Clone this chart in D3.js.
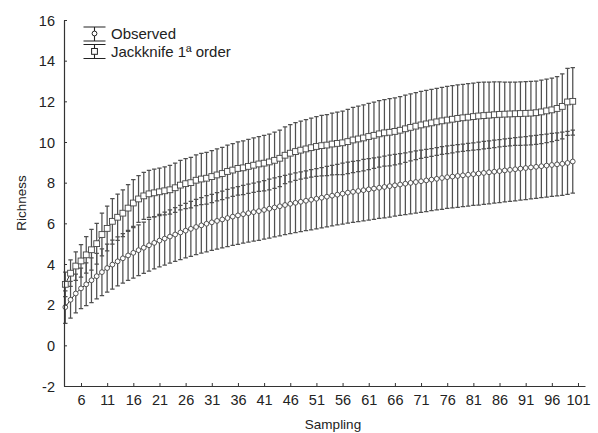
<!DOCTYPE html>
<html><head><meta charset="utf-8">
<script src="https://cdn.jsdelivr.net/npm/d3@7"></script>
<style>body{margin:0;background:#fff}svg{display:block;font-family:"Liberation Sans",Arial,sans-serif}</style>
</head><body><svg id="c" width="598" height="433"></svg>
<script>
const sampleStart = 3;
const observed = [1.88,2.24,2.55,2.8,3.0,3.2,3.4,3.6,3.8,3.97,4.13,4.28,4.42,4.55,4.68,4.8,4.92,5.04,5.15,5.25,5.35,5.45,5.55,5.64,5.73,5.82,5.9,5.98,6.05,6.12,6.19,6.26,6.33,6.39,6.45,6.5,6.55,6.6,6.66,6.72,6.78,6.84,6.9,6.96,7.01,7.06,7.11,7.16,7.21,7.26,7.31,7.36,7.41,7.46,7.51,7.55,7.59,7.63,7.67,7.71,7.75,7.79,7.83,7.87,7.91,7.95,7.99,8.03,8.07,8.11,8.15,8.19,8.23,8.27,8.3,8.33,8.36,8.39,8.42,8.45,8.48,8.51,8.54,8.57,8.6,8.63,8.66,8.69,8.72,8.75,8.78,8.81,8.84,8.87,8.9,8.93,8.97,9.04];
const observedErr = [0.8,0.9,0.95,1.0,1.05,1.1,1.12,1.15,1.18,1.2,1.21,1.22,1.23,1.24,1.25,1.26,1.27,1.28,1.29,1.3,1.31,1.32,1.33,1.34,1.35,1.36,1.37,1.38,1.38,1.39,1.4,1.41,1.41,1.42,1.42,1.43,1.43,1.44,1.44,1.45,1.45,1.46,1.46,1.46,1.47,1.47,1.47,1.48,1.48,1.48,1.49,1.49,1.49,1.5,1.5,1.5,1.5,1.51,1.51,1.51,1.51,1.52,1.52,1.52,1.52,1.52,1.53,1.53,1.53,1.53,1.53,1.53,1.54,1.54,1.54,1.54,1.54,1.54,1.54,1.55,1.55,1.55,1.55,1.55,1.55,1.55,1.55,1.55,1.55,1.55,1.55,1.55,1.55,1.55,1.55,1.55,1.55,1.55];
const jackknife = [3.0,3.55,3.9,4.15,4.45,4.7,5.0,5.45,5.75,6.1,6.3,6.5,6.75,7.0,7.2,7.35,7.45,7.5,7.55,7.6,7.65,7.75,7.88,7.95,8.0,8.12,8.18,8.22,8.3,8.38,8.45,8.55,8.62,8.7,8.73,8.8,8.86,8.92,8.96,9.02,9.1,9.2,9.35,9.45,9.53,9.6,9.66,9.72,9.78,9.82,9.85,9.9,9.93,9.96,10.02,10.1,10.15,10.2,10.27,10.33,10.4,10.45,10.48,10.52,10.58,10.65,10.72,10.78,10.84,10.89,10.94,10.99,11.04,11.08,11.12,11.16,11.19,11.22,11.25,11.28,11.3,11.32,11.34,11.36,11.37,11.38,11.39,11.4,11.41,11.42,11.44,11.48,11.53,11.58,11.65,11.75,11.97,12.0];
const jackknifeErr = [0.6,0.65,0.7,0.8,0.9,1.0,1.0,1.05,1.1,1.12,1.14,1.15,1.15,1.15,1.15,1.16,1.16,1.17,1.17,1.18,1.2,1.21,1.22,1.23,1.24,1.25,1.26,1.27,1.28,1.28,1.29,1.3,1.3,1.31,1.32,1.33,1.34,1.35,1.36,1.37,1.38,1.39,1.4,1.41,1.42,1.43,1.44,1.45,1.47,1.49,1.5,1.52,1.54,1.56,1.58,1.6,1.61,1.62,1.63,1.63,1.64,1.64,1.65,1.65,1.65,1.65,1.65,1.65,1.65,1.65,1.65,1.65,1.65,1.65,1.65,1.65,1.65,1.65,1.65,1.65,1.64,1.63,1.62,1.6,1.58,1.57,1.56,1.56,1.56,1.56,1.56,1.56,1.56,1.56,1.57,1.6,1.65,1.66];
const xTicks = [6,11,16,21,26,31,36,41,46,51,56,61,66,71,76,81,86,91,96,101];
const yTicks = [-2,0,2,4,6,8,10,12,14,16];
const legendLabels = ["Observed","Jackknife 1ª order"];

const svg = d3.select("#c");
const x = d3.scaleLinear().domain([2.75, 102.34]).range([64, 585]);
const y = d3.scaleLinear().domain([-2, 16]).range([386, 20]);

const mk = (vals, errs) => vals.map((v,i)=>({s: sampleStart+i, v, e: errs[i]}));
const obs = mk(observed, observedErr), jk = mk(jackknife, jackknifeErr);

const barColor = "#505050";
function drawBars(data){
  const g = svg.append("g").attr("stroke", barColor).attr("stroke-width",1.25).attr("fill","none");
  g.selectAll("path").data(data).join("path")
    .attr("d", d => {
      const cx = x(d.s), t = y(d.v+d.e), b = y(d.v-d.e);
      return `M${cx},${t}V${b}M${cx-2.2},${t}H${cx+2.2}M${cx-2.2},${b}H${cx+2.2}`;
    });
}
function drawLine(data){
  svg.append("path").datum(data).attr("fill","none").attr("stroke","#333").attr("stroke-width",1)
    .attr("d", d3.line().x(d=>x(d.s)).y(d=>y(d.v)));
}
drawBars(obs);
drawBars(jk);
drawLine(obs);
drawLine(jk);
svg.append("g").selectAll("circle").data(obs).join("circle")
  .attr("cx", d=>x(d.s)).attr("cy", d=>y(d.v)).attr("r",2.4)
  .attr("fill","#fff").attr("stroke","#444").attr("stroke-width",0.9);
svg.append("g").selectAll("rect").data(jk).join("rect")
  .attr("x", d=>x(d.s)-2.9).attr("y", d=>y(d.v)-2.9).attr("width",5.8).attr("height",5.8)
  .attr("fill","#fff").attr("stroke","#444").attr("stroke-width",0.9);

// axes
const fmt = d => String(d);
const xAxis = d3.axisBottom(x).tickValues(xTicks).tickFormat(fmt).tickSizeInner(-3).tickSizeOuter(0).tickPadding(9);
const gx = svg.append("g").attr("transform","translate(0,386)").call(xAxis);
const yAxis = d3.axisLeft(y).tickValues(yTicks).tickFormat(fmt).tickSizeInner(-3).tickSizeOuter(0).tickPadding(9);
const gy = svg.append("g").attr("transform","translate(64,0)").call(yAxis);
[gx,gy].forEach(g=>{
  g.select(".domain").attr("stroke","#333").attr("stroke-width",1.2);
  g.selectAll(".tick line").attr("stroke","#333");
  g.selectAll(".tick text").attr("fill","#222").style("font-size","14.5px").style("font-family","'Liberation Sans',Arial,sans-serif");
});
gy.selectAll(".tick text").attr("dy","0.35em");

svg.append("text").attr("x",333).attr("y",429).attr("text-anchor","middle")
  .attr("fill","#222").style("font-size","13.5px").text("Sampling");
svg.append("text").attr("transform","translate(26,203) rotate(-90)").attr("text-anchor","middle")
  .attr("fill","#222").style("font-size","13.5px").text("Richness");

// legend
const lg = svg.append("g");
[0,1].forEach(i=>{
  const cy = 34 + i*17.5, cx = 94.5;
  lg.append("path").attr("d",`M${cx},${cy-7}V${cy+7}M${cx-11},${cy-7}H${cx+11}M${cx-11},${cy+7}H${cx+11}`)
    .attr("stroke","#222").attr("stroke-width",1.1).attr("fill","none");
  if(i===0) lg.append("circle").attr("cx",cx).attr("cy",cy-0.5).attr("r",2.4).attr("fill","#fff").attr("stroke","#222");
  else lg.append("rect").attr("x",cx-2.9).attr("y",cy-3).attr("width",5.8).attr("height",5.8).attr("fill","#fff").attr("stroke","#222");
  lg.append("text").attr("x",111).attr("y",cy+5).attr("fill","#222").style("font-size","15px").text(legendLabels[i]);
});
</script></body></html>
